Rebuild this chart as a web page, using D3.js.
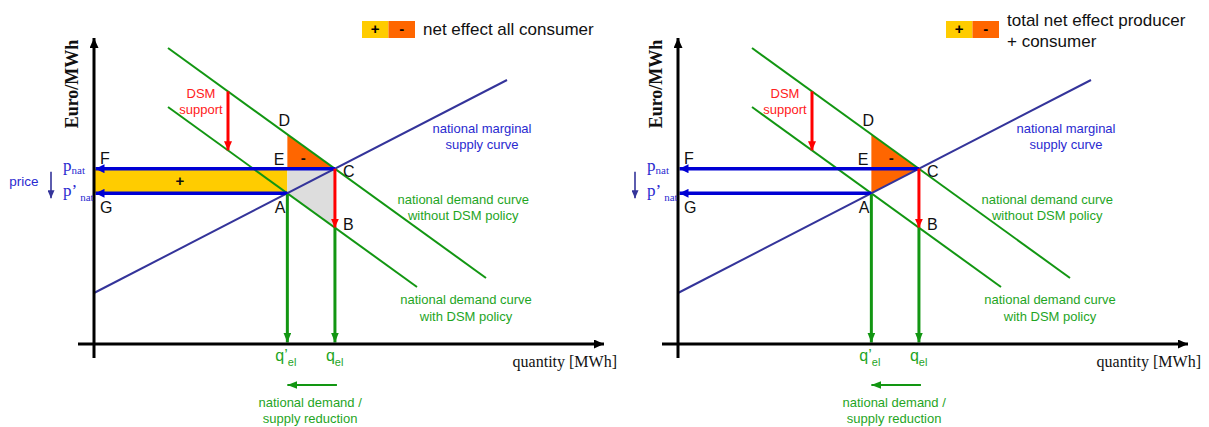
<!DOCTYPE html>
<html><head><meta charset="utf-8">
<script src="https://cdn.jsdelivr.net/npm/d3@7"></script>
<style>body{margin:0;background:#fff} svg{display:block}</style>
</head><body><svg id="chart" width="1209" height="427"></svg>
<script>
// ---------- data (chart units: quantity, price) ----------
const supplyCurve = [[0, 12.75], [103.25, 66]];
const demandCurve = [[18.5, 74], [98, 16.5]];
const demandCurveDSM = [[18.5, 59.25], [80.75, 14.25]];
const dsmSupportQ = 33.5;
const axisExtentQ = [-4, 127.5];
const axisExtentP = [-3.5, 76.5];
const legendTitles = [["net effect all consumer"], ["total net effect producer", "+ consumer"]];
const legendSigns = ["+", "-"];
const supplyLabel = ["national marginal", "supply curve"];
const demandLabel = ["national demand curve", "without DSM policy"];
const demandDSMLabel = ["national demand curve", "with DSM policy"];
const dsmLabel = ["DSM", "support"];
const reductionLabel = ["national demand /", "supply reduction"];
const priceLabel = "price";
const yAxisTitle = "Euro/MWh";
const xAxisTitle = "quantity [MWh]";

// ---------- styles ----------
const C_GREEN = "#129612", C_GREEN_TXT = "#1fa51f", C_SUPPLY = "#34349a",
      C_BLUE = "#0000d4", C_BLUE_TXT = "#2a2ad0", C_RED = "#ff0000",
      C_YELLOW = "#ffcc00", C_ORANGE = "#ff6600", C_GREY = "#dddddd";
const SANS = "'Liberation Sans', Arial, sans-serif";
const SERIF = "'Liberation Serif', 'Times New Roman', serif";

const svg = d3.select("#chart");
const defs = svg.append("defs");
function marker(id, color, w, l) {
  defs.append("marker").attr("id", id).attr("markerUnits", "userSpaceOnUse")
    .attr("viewBox", `0 0 ${l} ${w}`).attr("refX", l).attr("refY", w / 2)
    .attr("markerWidth", l).attr("markerHeight", w).attr("orient", "auto")
    .append("path").attr("d", `M0,0L${l},${w / 2}L0,${w}Z`).attr("fill", color);
}
marker("ah-black", "#000", 9, 10);
marker("ah-blue", C_BLUE, 9, 9);
marker("ah-red", C_RED, 8, 9);
marker("ah-green", C_GREEN, 8, 10);
marker("ah-price", C_SUPPLY, 7, 8);

function lineParams(seg) {
  const [[x1, y1], [x2, y2]] = seg;
  const m = (y2 - y1) / (x2 - x1);
  return { m, b: y1 - m * x1 };
}
function intersect(s1, s2) {
  const a = lineParams(s1), b = lineParams(s2);
  const q = (b.b - a.b) / (a.m - b.m);
  return [q, a.m * q + a.b];
}
const at = (seg, q) => { const p = lineParams(seg); return p.m * q + p.b; };

const C = intersect(supplyCurve, demandCurve);
const A = intersect(supplyCurve, demandCurveDSM);
const B = [C[0], at(demandCurveDSM, C[0])];
const D = [A[0], at(demandCurve, A[0])];
const E = [A[0], C[1]];

const panelOrigins = [94, 678];

panelOrigins.forEach((ox, i) => {
  const x = d3.scaleLinear().domain([0, 100]).range([ox, ox + 400]);
  const y = d3.scaleLinear().domain([0, 80]).range([344, 24]);
  const g = svg.append("g");
  const line = d3.line().x(d => x(d[0])).y(d => y(d[1]));
  const poly = pts => line(pts) + "Z";

  // fills
  if (i === 0) {
    g.append("path").attr("d", poly([[0, A[1]], A, E, [0, C[1]]])).attr("fill", C_YELLOW);
    g.append("path").attr("d", poly([D, E, C])).attr("fill", C_ORANGE);
    g.append("path").attr("d", poly([E, C, B, A])).attr("fill", C_GREY);
  } else {
    g.append("path").attr("d", poly([D, C, A])).attr("fill", C_ORANGE);
  }

  // curves
  [[demandCurve, C_GREEN], [demandCurveDSM, C_GREEN], [supplyCurve, C_SUPPLY]].forEach(([seg, col]) => {
    g.append("path").attr("d", line(seg)).attr("stroke", col).attr("stroke-width", 2).attr("fill", "none");
  });

  const arrow = (x1, y1, x2, y2, col, w, mk) =>
    g.append("line").attr("x1", x1).attr("y1", y1).attr("x2", x2).attr("y2", y2)
      .attr("stroke", col).attr("stroke-width", w).attr("marker-end", `url(#${mk})`);

  // blue price arrows
  arrow(x(C[0]), y(C[1]), x(0) + 1.5, y(C[1]), C_BLUE, 3.5, "ah-blue");
  arrow(x(A[0]), y(A[1]), x(0) + 1.5, y(A[1]), C_BLUE, 3.5, "ah-blue");
  // red arrows
  arrow(x(C[0]), y(C[1]), x(B[0]), y(B[1]), C_RED, 3, "ah-red");
  arrow(x(dsmSupportQ), y(at(demandCurve, dsmSupportQ)), x(dsmSupportQ), y(at(demandCurveDSM, dsmSupportQ)), C_RED, 3, "ah-red");
  // green quantity arrows
  arrow(x(A[0]), y(A[1]) + 1, x(A[0]), y(0) - 1.5, C_GREEN, 3, "ah-green");
  arrow(x(B[0]), y(B[1]), x(B[0]), y(0) - 1.5, C_GREEN, 3, "ah-green");
  arrow(x(C[0]) + 2, y(0) + 41, x(A[0]), y(0) + 41, C_GREEN, 2, "ah-green");

  // axes
  arrow(x(0), y(axisExtentP[0]), x(0), y(axisExtentP[1]), "#000", 3, "ah-black");
  arrow(x(axisExtentQ[0]), y(0), x(axisExtentQ[1]), y(0), "#000", 3, "ah-black");

  // price down arrow
  arrow(x(0) - 43, y(C[1]) + 3, x(0) - 43, y(A[1]) + 5, C_SUPPLY, 1.6, "ah-price");

  // texts
  const txt = (tx, ty, s, opt = {}) => g.append("text").attr("x", tx).attr("y", ty)
    .attr("font-family", opt.ff || SANS).attr("font-size", opt.fs || 13)
    .attr("font-weight", opt.fw || "normal")
    .attr("fill", opt.col || "#111").attr("text-anchor", opt.anchor || "middle").text(s);

  // point labels
  const pl = { fs: 16 };
  txt(x(C[0]) + 8, y(C[1]) + 8, "C", { ...pl, anchor: "start" });
  txt(x(D[0]) - 3, y(D[1]) - 8, "D", pl);
  txt(x(E[0]) - 3, y(E[1]) - 4, "E", { ...pl, anchor: "end" });
  txt(x(A[0]) - 2, y(A[1]) + 20, "A", { ...pl, anchor: "end" });
  txt(x(B[0]) + 8, y(B[1]) + 2, "B", { ...pl, anchor: "start" });
  txt(x(0) + 6, y(C[1]) - 5, "F", { ...pl, anchor: "start" });
  txt(x(0) + 6, y(A[1]) + 20, "G", { ...pl, anchor: "start" });

  // area signs
  const sgn = { fs: 15, fw: "bold" };
  if (i === 0) {
    txt(x(0) + 86, (y(C[1]) + y(A[1])) / 2 + 5, "+", sgn);
    txt((x(D[0]) * 2 + x(C[0])) / 3, y(C[1]) - 6, "-", sgn);
  } else {
    txt((x(D[0]) * 2 + x(C[0])) / 3 + 4, y(C[1]) - 6, "-", sgn);
  }

  // curve labels
  const lab = (lines, cx, cy, col) => lines.forEach((s, k) => txt(cx, cy + k * 16.5 + 4.5, s, { col }));
  lab(supplyLabel, x(97), 128, C_BLUE_TXT);
  lab(demandLabel, x(92.3), 199, C_GREEN_TXT);
  lab(demandDSMLabel, x(93), 299.5, C_GREEN_TXT);
  lab(dsmLabel, x(dsmSupportQ) - 27, 93, "#ff2020");
  lab(reductionLabel, (x(A[0]) + x(C[0])) / 2 - 1, 402, C_GREEN_TXT);

  // quantity labels
  [[A[0], "q’"], [C[0], "q"]].forEach(([q, s]) => {
    const t = g.append("text").attr("x", x(q) - 12 + (s.length === 1 ? 3 : 0)).attr("y", 361)
      .attr("font-family", SANS).attr("font-size", 16).attr("fill", C_GREEN_TXT);
    t.append("tspan").text(s);
    t.append("tspan").attr("font-size", 11).attr("dy", 5).text("el");
  });

  // price labels
  [[C[1], "p", 2], [A[1], "p’", 3]].forEach(([p, s, dy]) => {
    const t = g.append("text").attr("x", x(0) - 31).attr("y", y(p) + dy)
      .attr("font-family", SERIF).attr("font-size", 17).attr("fill", C_BLUE_TXT);
    t.append("tspan").text(s);
    t.append("tspan").attr("font-size", 11).attr("dy", s.length > 1 ? 5 : 3).attr("dx", s.length > 1 ? 3 : 0).text("nat");
  });
  if (i === 0) txt(x(0) - 70, (y(C[1]) + y(A[1])) / 2 + 5, priceLabel, { col: C_BLUE_TXT, fs: 13.5 });

  // axis titles
  g.append("text").attr("transform", `translate(${x(0) - 16},84) rotate(-90)`)
    .attr("font-family", SERIF).attr("font-weight", "bold").attr("font-size", 18)
    .attr("text-anchor", "middle").attr("fill", "#111").text(yAxisTitle);
  txt(x(0) + 523, 367, xAxisTitle, { ff: SERIF, fs: 16, anchor: "end" });

  // legend
  const lx = x(0) + 268;
  [[C_YELLOW, legendSigns[0]], [C_ORANGE, legendSigns[1]]].forEach(([col, s], k) => {
    g.append("rect").attr("x", lx + k * 26.5).attr("y", 21).attr("width", 26.5).attr("height", 17).attr("fill", col);
    txt(lx + k * 26.5 + 13.25, 34, s, { fs: 15, fw: "bold", col: "#000" });
  });
  const lt = legendTitles[i];
  lt.forEach((s, k) => {
    const cy = lt.length === 1 ? 29 : 19.5 + k * 21;
    txt(lx + 61, cy + 6, s, { fs: 17, anchor: "start", col: "#111" });
  });
});
</script></body></html>
